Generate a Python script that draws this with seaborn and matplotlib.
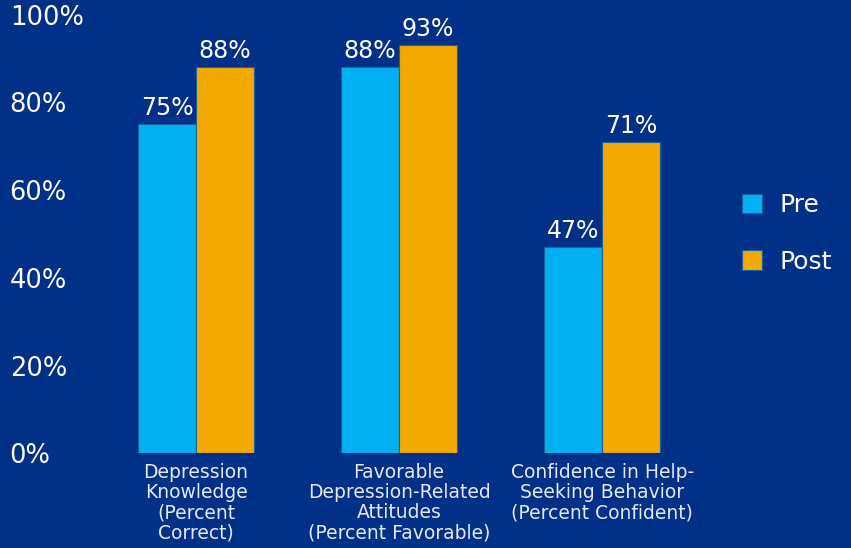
import matplotlib
matplotlib.use("Agg")
import matplotlib.pyplot as plt
import seaborn as sns
import pandas as pd

categories = [
    "Depression\nKnowledge\n(Percent\nCorrect)",
    "Favorable\nDepression-Related\nAttitudes\n(Percent Favorable)",
    "Confidence in Help-\nSeeking Behavior\n(Percent Confident)",
]
pre_values = [75, 88, 47]
post_values = [88, 93, 71]
phases = ["Pre", "Post"]
y_ticks = [0, 20, 40, 60, 80, 100]

BG = "#003087"
colors = {"Pre": "#00B0F0", "Post": "#F2A900"}

df = pd.DataFrame({
    "category": categories * 2,
    "value": pre_values + post_values,
    "phase": ["Pre"] * len(categories) + ["Post"] * len(categories),
})

sns.set_theme(style="white")
plt.rcParams["font.family"] = ["DejaVu Sans"]

fig = plt.figure(figsize=(8.51, 5.48), dpi=100, facecolor=BG)
ax = fig.add_axes([0.111, 0.173, 0.716, 0.80])
ax.set_facecolor(BG)

sns.barplot(data=df, x="category", y="value", hue="phase", hue_order=phases,
            palette=colors, width=0.57, ax=ax, linewidth=0.8,
            edgecolor="#1d5fa0", saturation=1)

for cont in ax.containers:
    ax.bar_label(cont, labels=[f"{int(v)}%" for v in cont.datavalues],
                 padding=3, color="white", fontsize=17)

ax.set_xlim(-0.5, 2.5)
ax.set_ylim(0, 100)
ax.set_yticks(y_ticks)
ax.set_yticklabels([f"{t}%" for t in y_ticks], color="white", fontsize=18.5, ha="left")
ax.tick_params(axis="y", length=0, pad=61)
ax.tick_params(axis="x", length=0, pad=7)
for lbl in ax.get_xticklabels():
    lbl.set_color("#E4E9F2")
    lbl.set_fontsize(13.5)
    lbl.set_linespacing(1.08)
ax.set_xlabel("")
ax.set_ylabel("")
for s in ax.spines.values():
    s.set_visible(False)

leg = ax.legend(loc="center left", bbox_to_anchor=(0.845, 0.574),
                bbox_transform=fig.transFigure, frameon=False,
                handlelength=0.8, handleheight=0.8, labelspacing=1.3,
                handletextpad=0.7, fontsize=18)
for t in leg.get_texts():
    t.set_color("white")

fig.savefig("out.png", dpi=100, facecolor=BG)
